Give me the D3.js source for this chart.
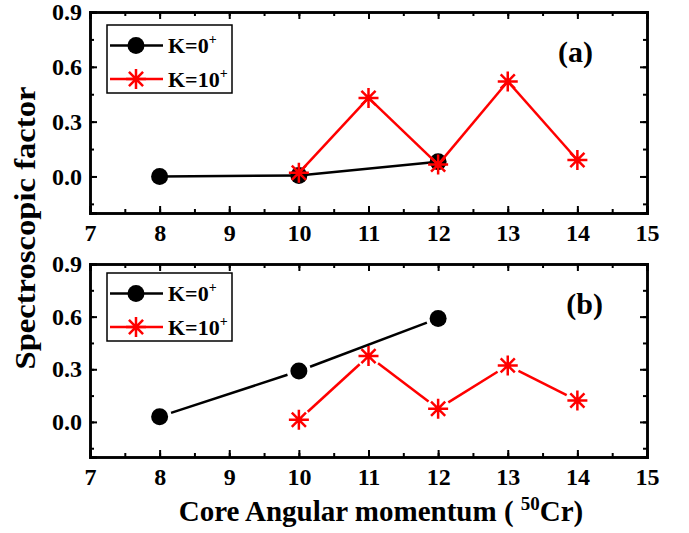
<!DOCTYPE html>
<html>
<head>
<meta charset="utf-8">
<script src="https://cdn.jsdelivr.net/npm/d3@7"></script>
<style>
  body { margin: 0; background: #fff; }
  text { font-family: "Liberation Serif", "Times New Roman", serif; font-weight: bold; }
</style>
</head>
<body>
<div id="viz"></div>
<script>
const width = 689;
const height = 533;

// data
const jValues = [8, 10, 12];
const jValuesK10 = [10, 11, 12, 13, 14];
const k0PanelA = [0.0, 0.005, 0.08];
const k10PanelA = [0.02, 0.43, 0.065, 0.52, 0.09];
const k0PanelB = [0.03, 0.29, 0.59];
const k10PanelB = [0.012, 0.375, 0.075, 0.322, 0.122];
const xTicks = [7, 8, 9, 10, 11, 12, 13, 14, 15];
const yTicks = [0.0, 0.3, 0.6, 0.9];
const legendLabels = ['K=0', 'K=10'];
const panelLabels = ['(a)', '(b)'];

const left = 90, right = 647;
const panels = [
  {top: 12, bottom: 213, k0: k0PanelA, k10: k10PanelA, label: panelLabels[0], labelX: 593, gap: false, legendTop: 25},
  {top: 264, bottom: 457, k0: k0PanelB, k10: k10PanelB, label: panelLabels[1], labelX: 603, gap: true, legendTop: 273}
];

const svg = d3.select('#viz')
  .append('svg')
    .attr('width', width)
    .attr('height', height);

const x = d3.scaleLinear().domain([7, 15]).range([left, right]);

// asterisk marker path centred on 0,0
const starPath = r => {
  let p = '';
  [0, 45, 90, 135].forEach(a => {
    const dx = r * Math.cos(a * Math.PI / 180), dy = r * Math.sin(a * Math.PI / 180);
    p += `M${-dx},${-dy}L${dx},${dy}`;
  });
  return p;
};

// line segments, optionally shortened so they stop short of the markers
const segments = (pts, gap) => {
  const out = [];
  for (let i = 0; i < pts.length - 1; i++) {
    let [x0, y0] = pts[i], [x1, y1] = pts[i + 1];
    if (gap) {
      const len = Math.hypot(x1 - x0, y1 - y0), g = 12;
      const ux = (x1 - x0) / len, uy = (y1 - y0) / len;
      x0 += ux * g; y0 += uy * g; x1 -= ux * g; y1 -= uy * g;
    }
    out.push([[x0, y0], [x1, y1]]);
  }
  return out;
};

panels.forEach(p => {
  const y = d3.scaleLinear().domain([-0.2, 0.9]).range([p.bottom, p.top]);
  const g = svg.append('g');

  // axes with inward ticks on all four sides
  const xMinor = d3.range(7, 15.01, 0.5);
  const yMinor = d3.range(-0.15, 0.9, 0.15);
  g.append('g').attr('transform', `translate(0,${p.bottom})`)
    .call(d3.axisBottom(x).tickValues(xMinor).tickSize(-4).tickFormat(''));
  g.append('g').attr('transform', `translate(0,${p.bottom})`)
    .call(d3.axisBottom(x).tickValues(xTicks).tickSize(-7).tickPadding(11).tickFormat(d3.format('d')));
  g.append('g').attr('transform', `translate(0,${p.top})`)
    .call(d3.axisTop(x).tickValues(xMinor).tickSize(-4).tickFormat(''));
  g.append('g').attr('transform', `translate(0,${p.top})`)
    .call(d3.axisTop(x).tickValues(xTicks).tickSize(-7).tickFormat(''));
  g.append('g').attr('transform', `translate(${left},0)`)
    .call(d3.axisLeft(y).tickValues(yMinor).tickSize(-4).tickFormat(''));
  g.append('g').attr('transform', `translate(${left},0)`)
    .call(d3.axisLeft(y).tickValues(yTicks).tickSize(-7).tickPadding(8).tickFormat(d3.format('.1f')));
  g.append('g').attr('transform', `translate(${right},0)`)
    .call(d3.axisRight(y).tickValues(yMinor).tickSize(-4).tickFormat(''));
  g.append('g').attr('transform', `translate(${right},0)`)
    .call(d3.axisRight(y).tickValues(yTicks).tickSize(-7).tickFormat(''));

  g.selectAll('.domain').attr('stroke', '#000').attr('stroke-width', 2.5);
  g.selectAll('.tick line').attr('stroke', '#000').attr('stroke-width', 2);
  g.selectAll('.tick text').attr('font-size', 24).attr('font-family', '"Liberation Serif", serif')
    .attr('font-weight', 'bold').attr('fill', '#000');

  // K=0+ series
  const ptsK0 = jValues.map((j, i) => [x(j), y(p.k0[i])]);
  const ptsK10 = jValuesK10.map((j, i) => [x(j), y(p.k10[i])]);

  g.selectAll('.segK0').data(segments(ptsK0, p.gap)).join('path')
    .attr('d', d3.line()).attr('stroke', '#000').attr('stroke-width', 2.5).attr('fill', 'none');
  g.selectAll('.dotK0').data(ptsK0).join('circle')
    .attr('cx', d => d[0]).attr('cy', d => d[1]).attr('r', 8.5).attr('fill', '#000');

  // K=10+ series
  g.selectAll('.segK10').data(segments(ptsK10, p.gap)).join('path')
    .attr('d', d3.line()).attr('stroke', '#ff0000').attr('stroke-width', 2.5).attr('fill', 'none');
  g.selectAll('.starK10').data(ptsK10).join('path')
    .attr('transform', d => `translate(${d[0]},${d[1]})`)
    .attr('d', starPath(10)).attr('stroke', '#ff0000').attr('stroke-width', 2.5).attr('fill', 'none');

  // legend
  const lg = g.append('g').attr('transform', `translate(107,${p.legendTop})`);
  lg.append('rect').attr('width', 125).attr('height', 68)
    .attr('fill', '#fff').attr('stroke', '#000').attr('stroke-width', 1.5);
  const rows = [20.5, 54];
  lg.append('line').attr('x1', 3).attr('x2', 56).attr('y1', rows[0]).attr('y2', rows[0])
    .attr('stroke', '#000').attr('stroke-width', 2.5);
  lg.append('circle').attr('cx', 29).attr('cy', rows[0]).attr('r', 8.5).attr('fill', '#000');
  lg.append('line').attr('x1', 3).attr('x2', 56).attr('y1', rows[1]).attr('y2', rows[1])
    .attr('stroke', '#ff0000').attr('stroke-width', 2.5);
  lg.append('path').attr('transform', `translate(29,${rows[1]})`).attr('d', starPath(10))
    .attr('stroke', '#ff0000').attr('stroke-width', 2.5).attr('fill', 'none');
  legendLabels.forEach((t, i) => {
    const tx = lg.append('text').attr('x', 61).attr('y', rows[i] + 7.5).attr('font-size', 22);
    tx.append('tspan').text(t);
    tx.append('tspan').attr('font-size', 14).attr('dy', -9).text('+');
  });

  // panel label
  g.append('text').attr('x', p.labelX).attr('y', p.top + 50).attr('text-anchor', 'end')
    .attr('font-size', 30).text(p.label);
});

// axis titles
svg.append('text')
  .attr('transform', `translate(35,228) rotate(-90)`)
  .attr('text-anchor', 'middle').attr('font-size', 30)
  .attr('textLength', 283).attr('lengthAdjust', 'spacingAndGlyphs')
  .text('Spectroscopic factor');

const xt = svg.append('text').attr('x', 381).attr('y', 521).attr('text-anchor', 'middle').attr('font-size', 29);
xt.append('tspan').text('Core Angular momentum ( ');
xt.append('tspan').attr('font-size', 19).attr('dy', -11).text('50');
xt.append('tspan').attr('dy', 11).text('Cr)');
</script>
</body>
</html>
